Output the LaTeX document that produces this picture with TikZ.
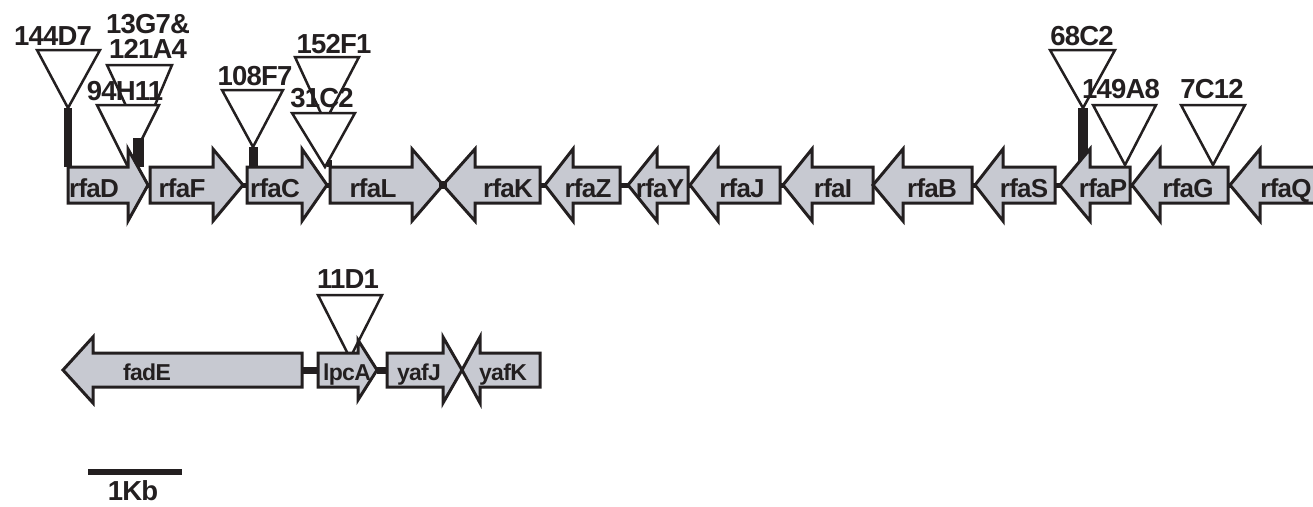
\documentclass[tikz,border=0pt]{standalone}
\usepackage{fontspec}
\setmainfont{Liberation Sans}
\newfontfamily\genefont{Liberation Sans}[LetterSpace=-3]
\newfontfamily\tnfont{Liberation Sans}[LetterSpace=-3]
\usepackage{tikz}
\definecolor{ink}{RGB}{35,31,32}
\definecolor{genefill}{RGB}{199,201,209}
\tikzset{
  gene/.style = {draw=ink, fill=genefill, line width=3pt, line join=miter},
  genename/.style = {inner sep=0pt, anchor=base, text=ink,
    font=\genefont\fontsize{26}{26}\selectfont\bfseries},
  tn/.style = {draw=ink, fill=white, line width=2.5pt, line join=miter},% insertion
  tnname/.style = {inner sep=0pt, anchor=base, align=center, text=ink,
    font=\tnfont\fontsize{27.5}{25}\selectfont\bfseries},
  tnbar/.style = {draw=ink, line width=9pt},% flanking deletion
  spacer/.style = {draw=ink, line width=5pt},
  junction/.style = {fill=ink, inner sep=0pt, minimum size=8pt}
}
% gene pointing right: name, start, head, tip, label x, label
\newcommand{\fwdgene}[6]{%
  \draw[gene] (#2,\rowy-\bodyh) -- (#3,\rowy-\bodyh) -- (#3,\rowy-\headh)
    -- (#4,\rowy) -- (#3,\rowy+\headh) -- (#3,\rowy+\bodyh)
    -- (#2,\rowy+\bodyh) -- cycle;
  \coordinate (#1-l) at (#2,\rowy);
  \coordinate (#1-r) at (#4,\rowy);
  \node[genename] (#1) at (#5,\rowy+\lift) {#6};}
% gene pointing left: name, tip, head, end, label x, label
\newcommand{\revgene}[6]{%
  \draw[gene] (#2,\rowy) -- (#3,\rowy-\headh) -- (#3,\rowy-\bodyh)
    -- (#4,\rowy-\bodyh) -- (#4,\rowy+\bodyh) -- (#3,\rowy+\bodyh)
    -- (#3,\rowy+\headh) -- cycle;
  \coordinate (#1-l) at (#2,\rowy);
  \coordinate (#1-r) at (#4,\rowy);
  \node[genename] (#1) at (#5,\rowy+\lift) {#6};}
% insertion: name, apex x, apex y, top y, left, right, label x, baseline, label
\newcommand{\tnsite}[9]{%
  \draw[tn] (#5,#4) -- (#6,#4) -- (#2,#3) -- cycle;
  \coordinate (#1) at (#2,#3);
  \node[tnname] (#1-lab) at (#7,#8) {#9};}

\begin{document}
\begin{tikzpicture}[x=1pt,y=-1pt]
  \clip (0,0) rectangle (1313,506);

  % insertions, top row
  \tnsite{t144D7}{68}{108}{50}{37}{100}{53}{45}{144D7}
  \tnsite{t13G7}{141}{138}{65}{107}{172}{148}{58}{13G7\&\\121A4}
  \tnsite{t94H11}{128}{167}{105}{97}{159}{125}{100}{94H11}
  \tnsite{t108F7}{253}{147}{90}{222}{283}{255}{85}{108F7}
  \tnsite{t152F1}{325}{122}{57}{295}{359}{334}{53}{152F1}
  \tnsite{t31C2}{325}{167}{113}{292}{355}{322}{107}{31C2}
  \tnsite{t68C2}{1083}{108}{50}{1050}{1115}{1082}{45}{68C2}
  \tnsite{t149A8}{1125}{165}{105}{1093}{1156}{1121}{98}{149A8}
  \tnsite{t7C12}{1213}{165}{105}{1181}{1245}{1212}{98}{7C12}
  % insertion, bottom row
  \tnsite{t11D1}{350}{358}{295}{318}{382}{348}{288}{11D1}

  \coordinate (top) at (0,167);
  \draw[tnbar, line width=8pt] (t144D7) -- (t144D7 |- top);
  \draw[tnbar, line width=11pt] ([xshift=-3pt]t13G7) -- ([xshift=-3pt]t13G7 |- top);
  \draw[tnbar] (t108F7) -- (t108F7 |- top);
  \draw[tnbar, line width=5pt] ([xshift=4pt,yshift=7pt]t31C2) -- ([xshift=4pt]t31C2);
  \draw[tnbar, line width=10pt] (t68C2) -- (t68C2 |- top);

  % top row
  \def\rowy{185}\def\bodyh{18}\def\headh{36}\def\lift{12}
  \fwdgene{rfaD}{68}{128}{148}{94}{rfaD}
  \fwdgene{rfaF}{150}{213}{243}{182}{rfaF}
  \fwdgene{rfaC}{247}{302}{327}{275}{rfaC}
  \fwdgene{rfaL}{330}{412}{443}{373}{rfaL}
  \revgene{rfaK}{443}{475}{540}{508}{rfaK}
  \revgene{rfaZ}{545}{573}{620}{588}{rfaZ}
  \revgene{rfaY}{628}{657}{688}{660}{rfaY}
  \revgene{rfaJ}{690}{718}{780}{742}{rfaJ}
  \revgene{rfaI}{783}{812}{873}{833}{rfaI}
  \revgene{rfaB}{873}{903}{972}{932}{rfaB}
  \revgene{rfaS}{975}{1003}{1055}{1024}{rfaS}
  \revgene{rfaP}{1060}{1090}{1130}{1103}{rfaP}
  \revgene{rfaG}{1132}{1160}{1228}{1188}{rfaG}
  \revgene{rfaQ}{1230}{1260}{1316}{1286}{rfaQ}
  \foreach \a/\b in {rfaD/rfaF, rfaF/rfaC, rfaC/rfaL, rfaK/rfaZ, rfaZ/rfaY,
      rfaY/rfaJ, rfaJ/rfaI, rfaB/rfaS, rfaS/rfaP, rfaP/rfaG, rfaG/rfaQ}
    \draw[spacer, shorten <=-1pt, shorten >=-1pt] (\a-r) -- (\b-l);
  \node[junction] (xLK) at (rfaL-r) {};

  % bottom row
  \begin{scope}[genename/.append style={font=\genefont\fontsize{23}{23}\selectfont\bfseries}]
  \def\rowy{370}\def\bodyh{17}\def\headh{33}\def\lift{10}
  \revgene{fadE}{63}{93}{302}{147}{fadE}
  \def\headh{30}
  \fwdgene{lpcA}{318}{358}{377}{347}{lpcA}
  \def\headh{33}
  \fwdgene{yafJ}{387}{443}{462}{419}{yafJ}
  \revgene{yafK}{462}{480}{540}{503}{yafK}
  \draw[spacer, line width=7pt] (fadE-r) -- (lpcA-l);
  \draw[spacer, line width=7pt] (lpcA-r) -- (yafJ-l);
  \end{scope}

  % scale
  \coordinate (kb-a) at (88,472);
  \coordinate (kb-b) at (182,472);
  \draw[draw=ink, line width=6pt] (kb-a) -- (kb-b);
  \node[tnname] (kb) at (133,500) {1Kb};
\end{tikzpicture}
\end{document}
